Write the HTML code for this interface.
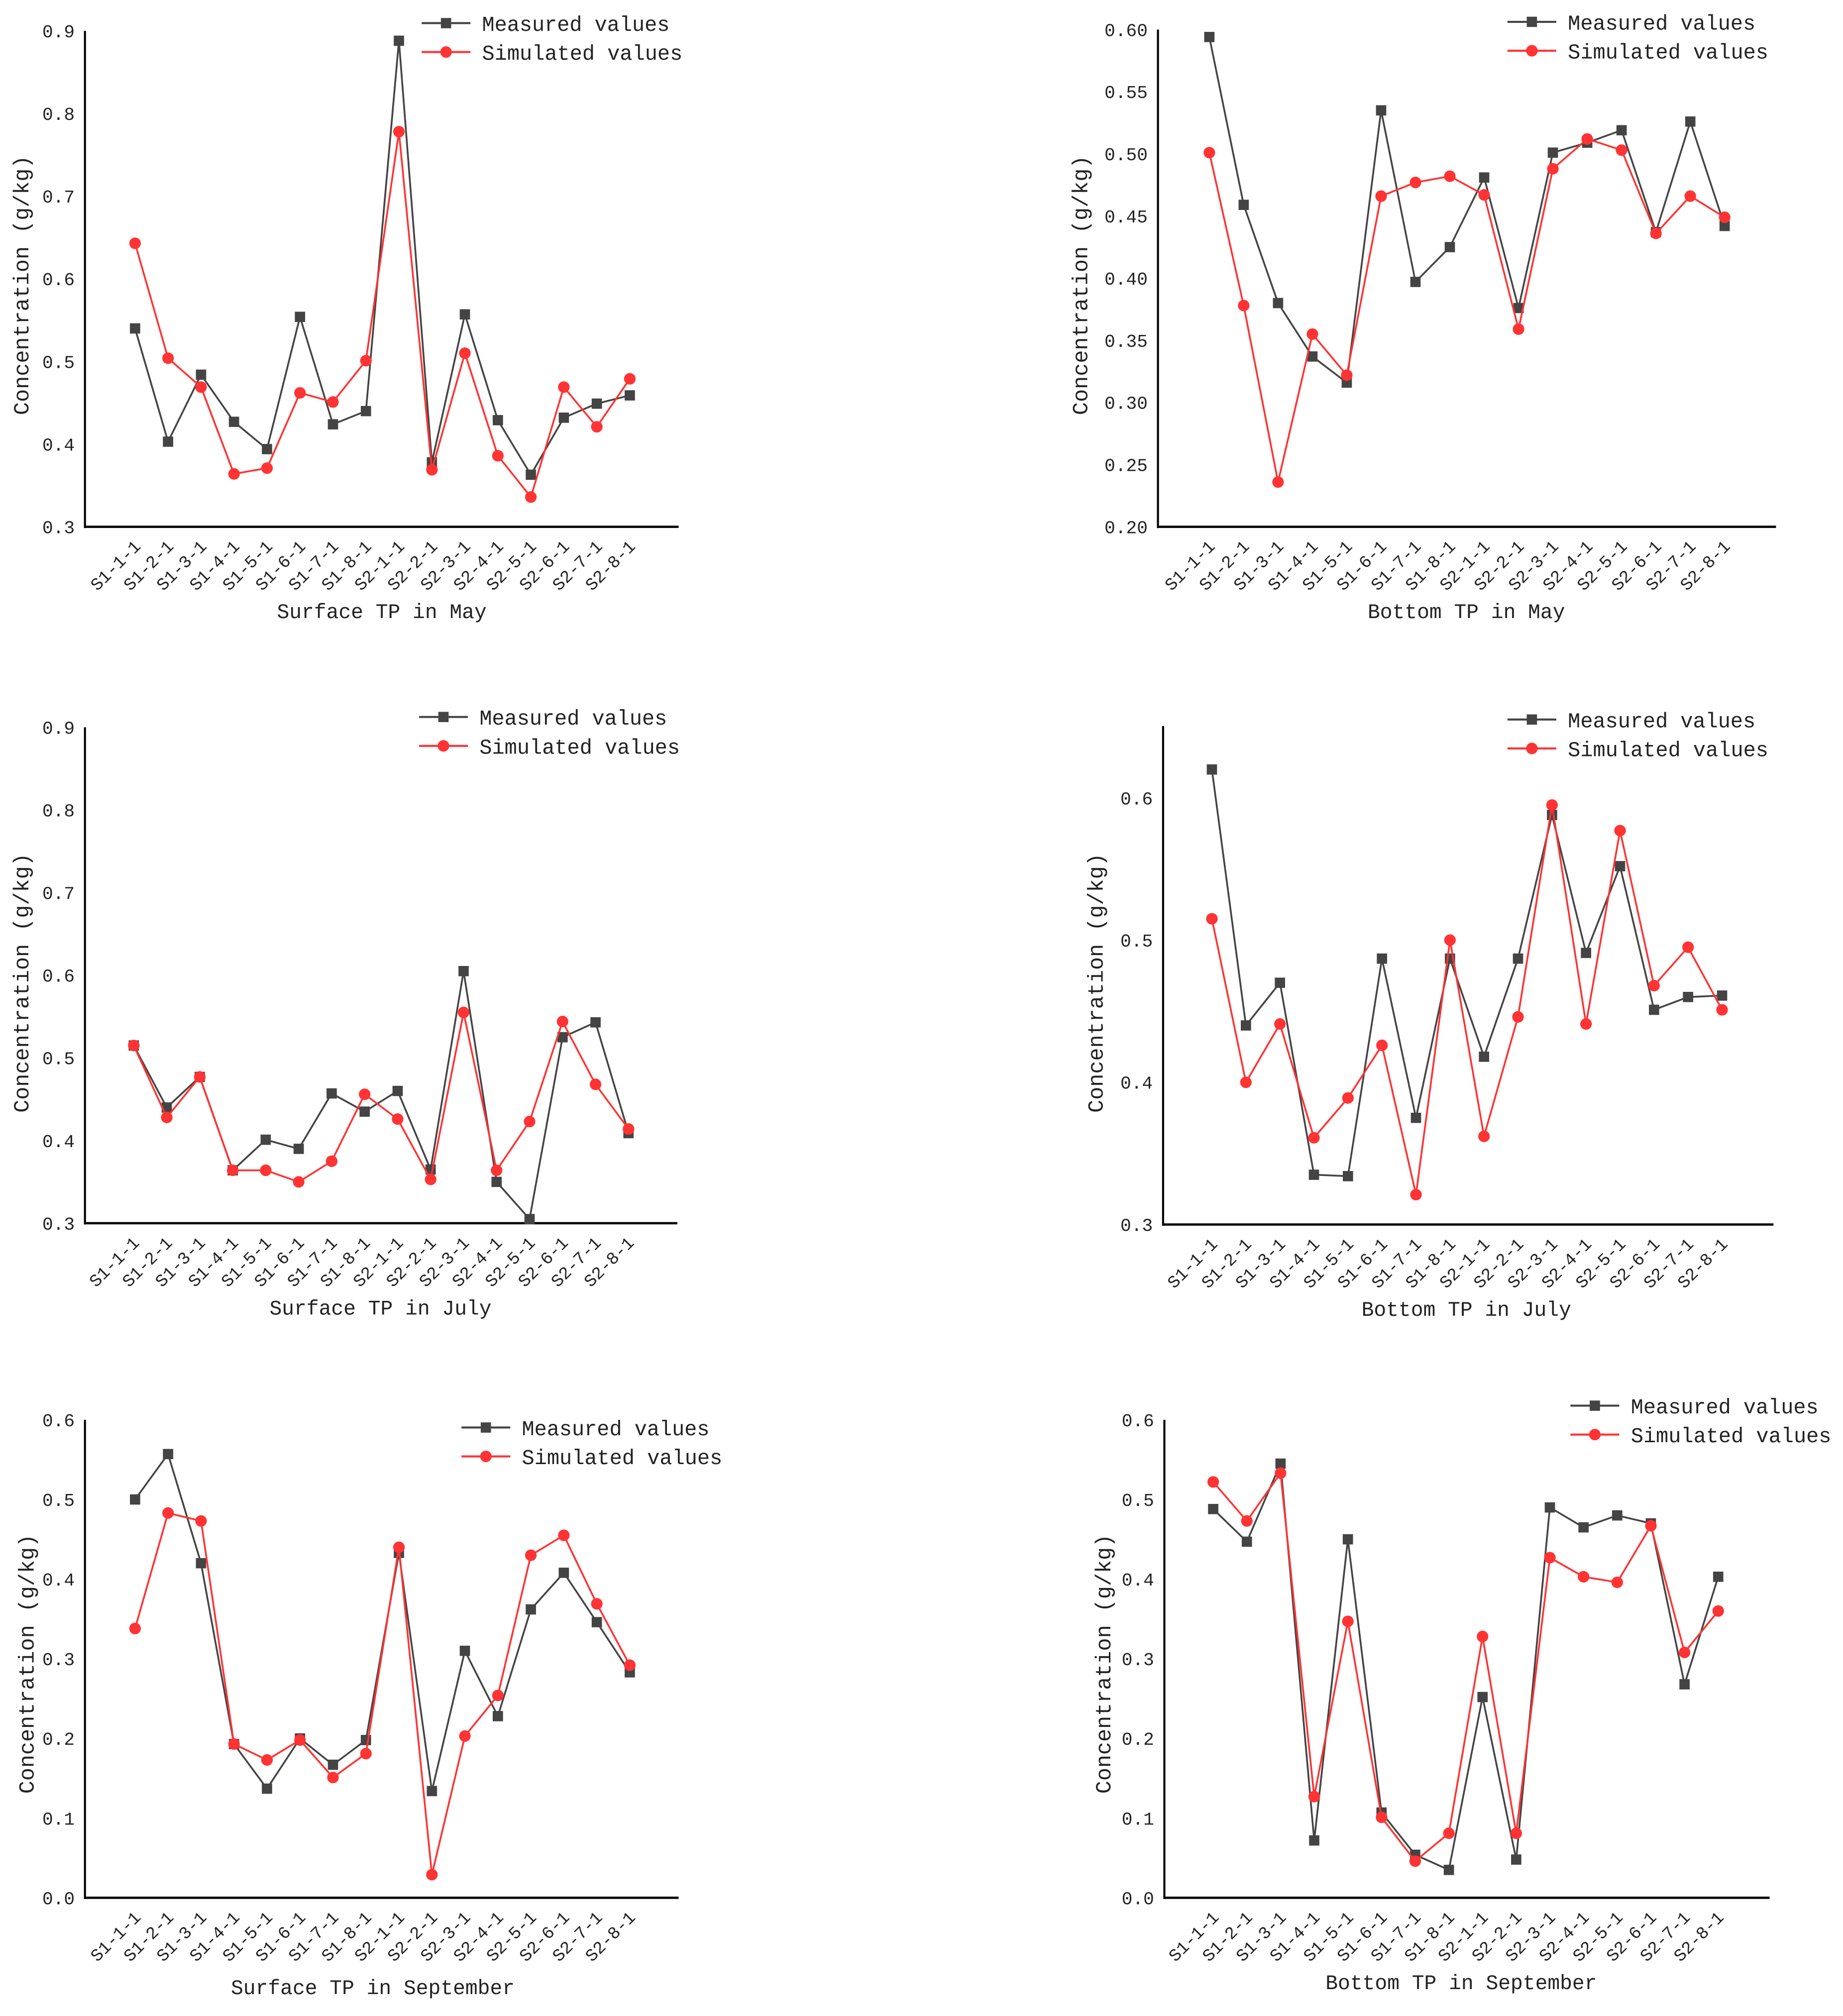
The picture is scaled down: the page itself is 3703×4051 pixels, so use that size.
<!DOCTYPE html>
<html><head><meta charset="utf-8"><style>
html,body{margin:0;padding:0;background:#fff;}
svg{display:block;}
text{font-family:"Liberation Mono","Noto Sans CJK SC",monospace;fill:#222;}
</style></head><body>
<svg id="root" xmlns="http://www.w3.org/2000/svg" width="3703" height="4051" viewBox="0 0 1434 1569"></svg>
<script>
const categories = ["S1-1-1","S1-2-1","S1-3-1","S1-4-1","S1-5-1","S1-6-1","S1-7-1","S1-8-1","S2-1-1","S2-2-1","S2-3-1","S2-4-1","S2-5-1","S2-6-1","S2-7-1","S2-8-1"];
const titles = ["Surface TP in May","Bottom TP in May","Surface TP in July","Bottom TP in July","Surface TP in September","Bottom TP in September"];
const measuredMaySurface = [0.54,0.403,0.484,0.427,0.394,0.554,0.424,0.44,0.888,0.378,0.557,0.429,0.363,0.432,0.449,0.459];
const simulatedMaySurface = [0.643,0.504,0.469,0.364,0.371,0.462,0.451,0.501,0.778,0.369,0.51,0.386,0.336,0.469,0.421,0.479];
const measuredMayBottom = [0.594,0.459,0.38,0.337,0.316,0.535,0.397,0.425,0.481,0.376,0.501,0.509,0.519,0.437,0.526,0.442];
const simulatedMayBottom = [0.501,0.378,0.236,0.355,0.322,0.466,0.477,0.482,0.467,0.359,0.488,0.512,0.503,0.436,0.466,0.449];
const measuredJulySurface = [0.515,0.44,0.477,0.364,0.401,0.39,0.457,0.435,0.46,0.365,0.605,0.35,0.305,0.525,0.543,0.409];
const simulatedJulySurface = [0.515,0.428,0.477,0.364,0.364,0.35,0.375,0.456,0.426,0.353,0.555,0.364,0.423,0.544,0.468,0.414];
const measuredJulyBottom = [0.62,0.44,0.47,0.335,0.334,0.487,0.375,0.487,0.418,0.487,0.588,0.491,0.552,0.451,0.46,0.461];
const simulatedJulyBottom = [0.515,0.40,0.441,0.361,0.389,0.426,0.321,0.50,0.362,0.446,0.595,0.441,0.577,0.468,0.495,0.451];
const measuredSepSurface = [0.50,0.557,0.42,0.193,0.137,0.20,0.167,0.198,0.433,0.134,0.31,0.228,0.362,0.408,0.346,0.283];
const simulatedSepSurface = [0.338,0.483,0.473,0.193,0.173,0.198,0.151,0.181,0.44,0.029,0.203,0.254,0.43,0.455,0.369,0.292];
const measuredSepBottom = [0.488,0.447,0.545,0.072,0.45,0.107,0.054,0.035,0.252,0.048,0.49,0.465,0.48,0.47,0.268,0.403];
const simulatedSepBottom = [0.522,0.473,0.533,0.127,0.347,0.101,0.046,0.081,0.328,0.081,0.427,0.403,0.396,0.467,0.308,0.36];
const ticksA = ["0.3","0.4","0.5","0.6","0.7","0.8","0.9"];
const ticksB = ["0.20","0.25","0.30","0.35","0.40","0.45","0.50","0.55","0.60"];
const ticksC = ["0.3","0.4","0.5","0.6"];
const ticksD = ["0.0","0.1","0.2","0.3","0.4","0.5","0.6"];

const NS="http://www.w3.org/2000/svg";
const root=document.getElementById('root');
function mk(tag,attrs,parent){const e=document.createElementNS(NS,tag);for(const k in attrs)e.setAttribute(k,attrs[k]);(parent||root).appendChild(e);return e;}

const panels=[
 {m:measuredMaySurface,s:simulatedMaySurface,t:ticksA,ax:66,ay0:410,atop:24,v0:0.3,v1:0.9,y1:24,right:528,x0:105,x1:490,leg:[328,18],tx:297,ty:481,yx:22,yy:222},
 {m:measuredMayBottom,s:simulatedMayBottom,t:ticksB,ax:901,ay0:410,atop:23,v0:0.2,v1:0.6,y1:23,right:1382,x0:941,x1:1342,leg:[1173,17],tx:1141,ty:481,yx:846,yy:222},
 {m:measuredJulySurface,s:simulatedJulySurface,t:ticksA,ax:66,ay0:952,atop:566,v0:0.3,v1:0.9,y1:566,right:527,x0:104,x1:489,leg:[326,558],tx:296,ty:1023,yx:22,yy:765},
 {m:measuredJulyBottom,s:simulatedJulyBottom,t:ticksC,ax:905,ay0:953,atop:565,v0:0.3,v1:0.6,y1:621,right:1380,x0:943,x1:1340,leg:[1173,560],tx:1141,ty:1024,yx:858,yy:765},
 {m:measuredSepSurface,s:simulatedSepSurface,t:ticksD,ax:66,ay0:1477,atop:1105,v0:0.0,v1:0.6,y1:1105,right:528,x0:105,x1:490,leg:[359,1111],tx:290,ty:1552,yx:26,yy:1295},
 {m:measuredSepBottom,s:simulatedSepBottom,t:ticksD,ax:906,ay0:1477,atop:1105,v0:0.0,v1:0.6,y1:1105,right:1377,x0:944,x1:1337,leg:[1222,1094],tx:1137,ty:1548,yx:864,yy:1295}
];

panels.forEach((p,pi)=>{
  const g=mk('g',{});
  
  
  const yS=v=>p.ay0-(v-p.v0)/(p.v1-p.v0)*(p.ay0-p.y1);
  const xS=i=>p.x0+i*(p.x1-p.x0)/(categories.length-1);
  const ya=mk('line',{x1:p.ax,y1:p.atop,x2:p.ax,y2:p.ay0+1,stroke:'#000','stroke-width':1.6},g);
  
  
  const xa=mk('line',{x1:p.ax,y1:p.ay0,x2:p.right,y2:p.ay0,stroke:'#000','stroke-width':1.8},g);
  
  
  p.t.forEach(t=>{
    const tt=mk('text',{x:p.ax-8,y:yS(parseFloat(t))+5,'text-anchor':'end','font-size':14},g);
    
    
    tt.textContent=t;
  });
  categories.forEach((c,i)=>{
    const x=xS(i),y=p.ay0+16;
    const ct=mk('text',{x:x+5,y:y,'text-anchor':'end','font-size':13.5,transform:`rotate(-45 ${x+5} ${y})`},g);
    
    
    ct.textContent=c;
  });
  const xt=mk('text',{x:p.tx,y:p.ty,'text-anchor':'middle','font-size':16},g);
  
  
  xt.textContent=titles[pi];
  const yt=mk('text',{x:p.yx,y:p.yy,'text-anchor':'middle','font-size':17,textLength:202,lengthAdjust:'spacingAndGlyphs',transform:`rotate(-90 ${p.yx} ${p.yy})`},g);
  
  
  yt.textContent='Concentration (g/kg)';
  const series=[{d:p.m,c:'#444',sq:true,n:'measured'},{d:p.s,c:'#ff3333',sq:false,n:'simulated'}];
  series.forEach(s=>{
    const pl=mk('polyline',{points:s.d.map((v,i)=>xS(i)+','+yS(v)).join(' '),fill:'none',stroke:s.c,'stroke-width':1.4},g);
    
    
    s.d.forEach((v,i)=>{
      let mkr;
      if(s.sq) mkr=mk('rect',{x:xS(i)-4,y:yS(v)-4,width:8,height:8,fill:s.c},g);
      else mkr=mk('circle',{cx:xS(i),cy:yS(v),r:4.5,fill:s.c},g);
      
      
    });
  });
  const [lx,ly]=p.leg;
  [['Measured values','#444',true,146],['Simulated values','#ff3333',false,156]].forEach((L,k)=>{
    const yy=ly+k*22.5;
    const lg=mk('g',{},g);
    
    
    mk('line',{x1:lx,y1:yy,x2:lx+38,y2:yy,stroke:L[1],'stroke-width':1.6},lg);
    if(L[2]) mk('rect',{x:lx+15,y:yy-4,width:8,height:8,fill:L[1]},lg);
    else mk('circle',{cx:lx+19,cy:yy,r:4.5,fill:L[1]},lg);
    const lt=mk('text',{x:lx+47,y:yy+6,'font-size':16.5,textLength:L[3],lengthAdjust:'spacingAndGlyphs'},lg);
    lt.textContent=L[0];
  });
});
</script>
</body></html>
